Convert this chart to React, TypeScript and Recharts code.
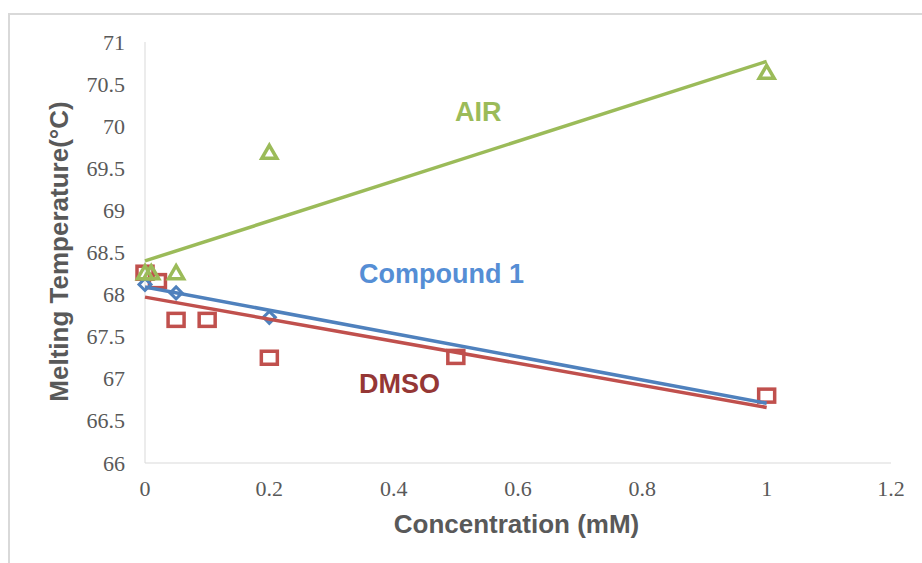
import { ScatterChart, Scatter, XAxis, YAxis } from 'recharts';

// Concentration (mM) / melting temperature (°C)
const airX = [0, 0.01, 0.05, 0.2, 1];
const airY = [68.26, 68.26, 68.26, 69.69, 70.64];

const compoundX = [0, 0.05, 0.2];
const compoundY = [68.12, 68.02, 67.73];

const dmsoX = [0, 0.02, 0.05, 0.1, 0.2, 0.5, 1];
const dmsoY = [68.26, 68.16, 67.7, 67.7, 67.25, 67.26, 66.8];

// linear trendlines (endpoints at 0 and 1 mM)
const trendX = [0, 1];
const airTrendY = [68.4, 70.77];
const compoundTrendY = [68.09, 66.71];
const dmsoTrendY = [67.97, 66.66];

const xTicks = [0, 0.2, 0.4, 0.6, 0.8, 1, 1.2];
const yTicks = [66, 66.5, 67, 67.5, 68, 68.5, 69, 69.5, 70, 70.5, 71];

const GREEN = '#9BBB59';
const BLUE = '#4F81BD';
const RED = '#C0504D';
const GREY = '#595959';
const AXIS = '#d9d9d9';

const toPoints = (xs: number[], ys: number[]) => xs.map((x, i) => ({ x, y: ys[i] }));

const airData = toPoints(airX, airY);
const compoundData = toPoints(compoundX, compoundY);
const dmsoData = toPoints(dmsoX, dmsoY);
const airTrend = toPoints(trendX, airTrendY);
const compoundTrend = toPoints(trendX, compoundTrendY);
const dmsoTrend = toPoints(trendX, dmsoTrendY);

const Triangle = ({ cx, cy }: any) => (
    <path
        d={`M${cx},${cy - 7} L${cx + 7.5},${cy + 6} L${cx - 7.5},${cy + 6} Z`}
        style={{ fill: 'none', stroke: GREEN, strokeWidth: 3.5 }}
    />
);

const Diamond = ({ cx, cy }: any) => (
    <path
        d={`M${cx},${cy - 6} L${cx + 6},${cy} L${cx},${cy + 6} L${cx - 6},${cy} Z`}
        style={{ fill: 'none', stroke: BLUE, strokeWidth: 3 }}
    />
);

const Square = ({ cx, cy }: any) => (
    <rect
        x={cx - 8}
        y={cy - 6.5}
        width={16}
        height={13}
        style={{ fill: 'none', stroke: RED, strokeWidth: 3.5 }}
    />
);

const NoDot = () => <g />;

const tickFont = '"Liberation Serif", "DejaVu Serif", serif';
const titleFont = '"Liberation Sans", Arial, sans-serif';
const tickTextStyle = { fontFamily: tickFont, fontSize: 22, fill: GREY };

const XTick = ({ x, y, payload }: any) => (
    <text x={x} y={y + 15.5} textAnchor="middle" style={tickTextStyle}>
        {payload.value}
    </text>
);

const YTick = ({ x, y, payload }: any) => (
    <text x={x} y={y + 7.5} textAnchor="end" style={tickTextStyle}>
        {payload.value}
    </text>
);

const titleStyle = { fontFamily: titleFont, fontWeight: 'bold' as const, fontSize: 26, fill: GREY };

const XTitle = () => (
    <text x={516.5} y={533} textAnchor="middle" style={titleStyle}>
        Concentration (mM)
    </text>
);

const YTitle = () => (
    <text x={68} y={251.5} transform="rotate(-90, 68, 251.5)" textAnchor="middle" style={titleStyle}>
        Melting Temperature(°C)
    </text>
);

export default function App() {
    return (
        <div style={{ position: 'absolute', left: 0, top: 0, width: 922, height: 563, overflow: 'hidden', background: '#fff' }}>
            {/* chart frame */}
            <div
                style={{
                    position: 'absolute', left: 8, top: 13, width: 940, height: 580,
                    border: `2px solid ${AXIS}`, boxSizing: 'border-box',
                }}
            />
            <div style={{ position: 'absolute', left: 0, top: 0 }}>
                <ScatterChart width={922} height={563} margin={{ top: 42, right: 31, bottom: 0, left: 0 }}>
                    <XAxis
                        type="number"
                        dataKey="x"
                        domain={[0, 1.2]}
                        ticks={xTicks}
                        height={100}
                        stroke={AXIS}
                        tickLine={false}
                        tickSize={0}
                        tickMargin={17}
                        tick={XTick}
                        label={{ content: XTitle }}
                    />
                    <YAxis
                        type="number"
                        dataKey="y"
                        domain={[66, 71]}
                        ticks={yTicks}
                        width={145}
                        stroke={AXIS}
                        tickLine={false}
                        tickSize={0}
                        tickMargin={20}
                        tick={YTick}
                        label={{ content: YTitle }}
                    />

                    <Scatter data={dmsoData} shape={Square} isAnimationActive={false} />
                    <Scatter data={compoundData} shape={Diamond} isAnimationActive={false} />
                    <Scatter data={airData} shape={Triangle} isAnimationActive={false} />

                    {/* trendlines */}
                    <Scatter data={dmsoTrend} shape={NoDot} line={{ stroke: RED, strokeWidth: 3.5 }} isAnimationActive={false} />
                    <Scatter data={compoundTrend} shape={NoDot} line={{ stroke: BLUE, strokeWidth: 3.5 }} isAnimationActive={false} />
                    <Scatter data={airTrend} shape={NoDot} line={{ stroke: GREEN, strokeWidth: 3.5 }} isAnimationActive={false} />
                </ScatterChart>
            </div>

            {/* series annotations */}
            <svg width={922} height={563} style={{ position: 'absolute', left: 0, top: 0, pointerEvents: 'none' }}>
                <g style={{ fontFamily: titleFont, fontWeight: 'bold', fontSize: 27 }}>
                    <text x={455} y={121} fill={GREEN}>AIR</text>
                    <text x={359} y={283} fill="#558ED5">Compound 1</text>
                    <text x={359} y={393} fill="#953735">DMSO</text>
                </g>
            </svg>
        </div>
    );
}
